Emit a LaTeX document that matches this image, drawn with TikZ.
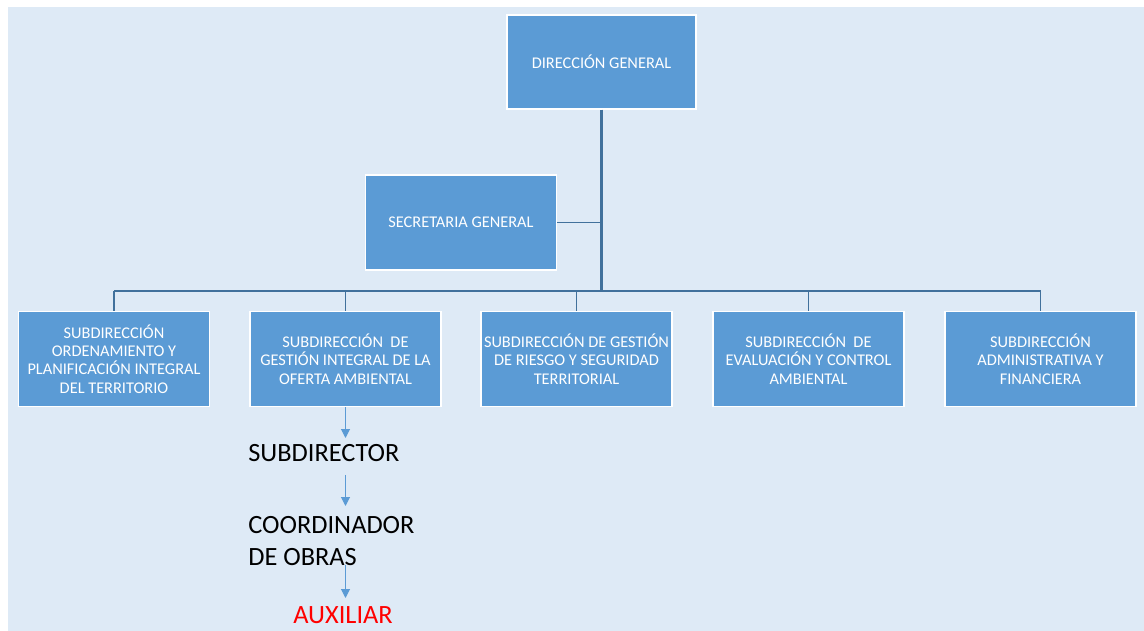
\documentclass[tikz,border=0pt]{standalone}
\usepackage{fontspec}
\setmainfont{Carlito}
\definecolor{orgblue}{RGB}{91,155,213}
\definecolor{orgline}{RGB}{65,113,156}
\definecolor{orgback}{RGB}{222,234,246}
\usetikzlibrary{arrows.meta, positioning}

\begin{document}
\begin{tikzpicture}[x=0.02cm, y=-0.02cm,
  obox/.style={draw=white, line width=0.6pt, fill=orgblue, text=white, minimum width=3.82cm, minimum height=1.9cm, align=center, inner sep=1pt, font=\fontsize{9.3}{10.5}\selectfont},
  trunk/.style={draw=orgline, line width=1.4pt},
  bus/.style={draw=orgline, line width=0.8pt},
  rolearrow/.style={draw=orgblue, line width=0.6pt, -{Triangle[width=5pt,length=5pt]}},
  role/.style={anchor=west, align=left, inner sep=0pt, font=\fontsize{15}{18}\selectfont}
]
  \useasboundingbox (0,0) rectangle (1144,631);
  \fill[orgback] (8,7) rectangle (1144,631);

  \node[obox, minimum width=3.78cm, minimum height=1.88cm] (dg) at (601.5,62) {DIRECCIÓN GENERAL};
  \node[obox] (sg) at (461,222.5) {SECRETARIA GENERAL};

  \node[obox] (s1) at (114,359) {SUBDIRECCIÓN\\ORDENAMIENTO Y\\PLANIFICACIÓN INTEGRAL\\DEL TERRITORIO};
  \node[obox] (s2) at (345.5,359) {SUBDIRECCIÓN\ \ DE\\GESTIÓN INTEGRAL DE LA\\OFERTA AMBIENTAL};
  \node[obox] (s3) at (576.5,359) {SUBDIRECCIÓN DE GESTIÓN\\DE RIESGO Y SEGURIDAD\\TERRITORIAL};
  \node[obox] (s4) at (808.5,359) {SUBDIRECCIÓN\ \ DE\\EVALUACIÓN Y CONTROL\\AMBIENTAL};
  \node[obox] (s5) at (1040.5,359) {SUBDIRECCIÓN\\ADMINISTRATIVA Y\\FINANCIERA};

  \coordinate (hub) at (601.5,291);
  \draw[trunk] (dg.south) -- (hub);
  \draw[bus] (sg.east) -- (sg.east -| hub);
  \draw[bus] (s1.north |- hub) -- (s5.north |- hub);
  \foreach \n in {1,...,5}
    \draw[bus, line width=0.6pt] (s\n.north |- hub) -- (s\n.north);

  \node[role] (sdr) at (248,453) {SUBDIRECTOR};
  \node[role] (coord) at (248,541) {COORDINADOR\\DE OBRAS};
  \node[role, anchor=center, text=red] (aux) at (343,615) {AUXILIAR};

  \coordinate (a1) at (345.5,438);
  \coordinate (a2s) at (345.5,475);
  \coordinate (a2) at (345.5,506);
  \coordinate (a3s) at (345.5,565);
  \coordinate (a3) at (345.5,598);
  \draw[rolearrow] (s2.south) -- (a1);
  \draw[rolearrow] (a2s) -- (a2);
  \draw[rolearrow] (a3s) -- (a3);
\end{tikzpicture}
\end{document}
